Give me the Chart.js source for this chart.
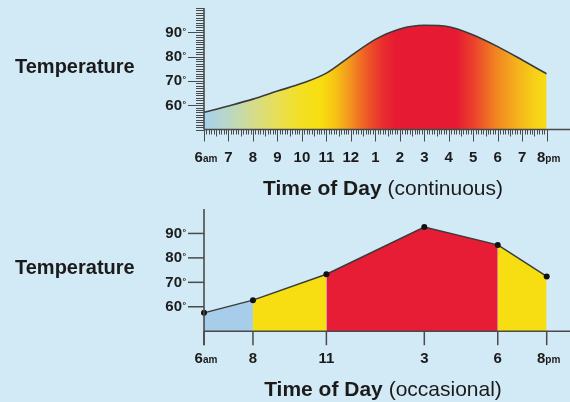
<!DOCTYPE html>
<html>
<head>
<meta charset="utf-8">
<script src="https://cdn.jsdelivr.net/npm/chart.js@4"></script>
<style>
  html, body { margin: 0; padding: 0; background: #d2e9f6; }
  #wrap { position: relative; width: 570px; height: 402px; overflow: hidden; }
  canvas { position: absolute; left: 0; }
  #cont { top: 0; }
  #occ { top: 200px; }
</style>
</head>
<body>
<div id="wrap">
  <canvas id="cont" width="570" height="200"></canvas>
  <canvas id="occ" width="570" height="202"></canvas>
</div>
<script>
// continuous readings, one per hour (6am .. 8pm)
const contHours = [6, 7, 8, 9, 10, 11, 12, 13, 14, 15, 16, 17, 18, 19, 20];
const contTemps = [57.1, 59.7, 62.5, 65.8, 69.0, 73.2, 80.3, 87.1, 91.4, 92.9, 92.3, 88.9, 84.1, 78.6, 72.9];
const contTickLabels = ['6am', '7', '8', '9', '10', '11', '12', '1', '2', '3', '4', '5', '6', '7', '8pm'];

// occasional readings
const occHours = [6, 8, 11, 15, 18, 20];
const occTemps = [57.5, 62.7, 73.3, 92.6, 85.3, 72.4];
const occTickLabels = ['6am', '8', '11', '3', '6', '8pm'];
const occBandColors = ['#a8cdea', '#f6de12', '#e71c35', '#e71c35', '#f6de12'];

const yTickLabels = [60, 70, 80, 90];
const yLabel = 'Temperature';
const xTitleBold = 'Time of Day';
const contTitleRest = ' (continuous)';
const occTitleRest = ' (occasional)';

const FONT = '"Liberation Sans", Arial, Helvetica, sans-serif';
const INK = '#1b1b1b';
const AXIS = '#4a4a4a';

// horizontal heat gradient for the continuous chart (hour, colour)
const heatStops = [
  [6, '#a8d0ee'], [7, '#bad7c6'], [8, '#d3dc8c'], [9, '#e8df55'], [10, '#f4e022'],
  [10.8, '#f7de10'], [11.4, '#f6c015'], [11.9, '#f39a1e'], [12.6, '#ee5d28'],
  [13.3, '#e92d2e'], [13.8, '#e61b33'], [16.3, '#e61b33'], [17, '#eb402b'],
  [17.9, '#f28322'], [18.8, '#f5b21c'], [19.6, '#f7d317'], [20, '#f6db14']
];

function heatFill(c) {
  const chart = c.chart;
  if (!chart.chartArea) return '#f6db14';
  const x = chart.scales.x;
  const x0 = x.getPixelForValue(x.min), x1 = x.getPixelForValue(x.max);
  const g = chart.ctx.createLinearGradient(x0, 0, x1, 0);
  heatStops.forEach(([h, col]) => g.addColorStop((h - x.min) / (x.max - x.min), col));
  return g;
}

function hourLabel(ctx, text, cx, base) {
  const m = text.match(/^(\d+)(am|pm)?$/);
  const num = m[1], suf = m[2] || '';
  ctx.font = 'bold 15px ' + FONT;
  const wn = ctx.measureText(num).width;
  ctx.font = 'bold 10px ' + FONT;
  const ws = suf ? ctx.measureText(suf).width : 0;
  const start = cx - (wn + ws) / 2 + (suf ? 2 : 0);
  ctx.textAlign = 'left';
  ctx.font = 'bold 15px ' + FONT;
  ctx.fillText(num, start, base);
  if (suf) { ctx.font = 'bold 10px ' + FONT; ctx.fillText(suf, start + wn, base); }
}

const axesDraw = {
  id: 'axesDraw',
  afterDraw(chart, args, o) {
    const { ctx, scales: { x, y } } = chart;
    const ax = x.getPixelForValue(x.min);
    const ay = y.getPixelForValue(y.min);
    const yTop = y.getPixelForValue(y.max);
    ctx.save();
    ctx.strokeStyle = AXIS;
    ctx.fillStyle = INK;
    ctx.textBaseline = 'alphabetic';

    // x axis line to the edge
    ctx.lineWidth = 1.6;
    ctx.beginPath(); ctx.moveTo(ax, ay); ctx.lineTo(chart.width, ay); ctx.stroke();
    // y axis line
    ctx.beginPath(); ctx.moveTo(ax, yTop); ctx.lineTo(ax, ay + (o.ruler ? 0 : 14)); ctx.stroke();

    ctx.lineWidth = 1;
    if (o.ruler) {
      y.ticks.forEach(t => {
        const py = Math.round(y.getPixelForValue(t.value)) + 0.5;
        const major = yTickLabels.includes(Math.round(t.value));
        ctx.beginPath(); ctx.moveTo(ax - (major ? 16 : 8), py); ctx.lineTo(ax, py); ctx.stroke();
      });
      x.ticks.forEach(t => {
        const px = Math.round(x.getPixelForValue(t.value)) + 0.5;
        const f = t.value - Math.floor(t.value + 1e-6);
        const len = Math.abs(f) < 1e-6 ? 12 : (Math.abs(f - 0.5) < 1e-6 ? 7 : 5);
        ctx.beginPath(); ctx.moveTo(px, ay); ctx.lineTo(px, ay + len); ctx.stroke();
      });
    } else {
      yTickLabels.forEach(v => {
        const py = y.getPixelForValue(v);
        ctx.lineWidth = 1.5;
        ctx.beginPath(); ctx.moveTo(ax - 16, py); ctx.lineTo(ax, py); ctx.stroke();
      });
      o.hours.forEach(h => {
        const px = x.getPixelForValue(h);
        ctx.lineWidth = 1.5;
        ctx.beginPath(); ctx.moveTo(px, ay); ctx.lineTo(px, ay + 14); ctx.stroke();
      });
    }

    // y labels with degree sign
    yTickLabels.forEach(v => {
      const py = y.getPixelForValue(v);
      ctx.textAlign = 'right';
      ctx.font = 'bold 15px ' + FONT;
      ctx.fillText(String(v), ax - 22, py + 4.5);
      ctx.textAlign = 'left';
      ctx.font = 'bold 9px ' + FONT;
      ctx.fillText('\u00b0', ax - 21.5, py + 1.5);
    });

    // x labels
    o.hours.forEach((h, i) => hourLabel(ctx, o.labels[i], x.getPixelForValue(h), ay + 32));

    // axis titles
    ctx.textAlign = 'left';
    ctx.font = 'bold 20px ' + FONT;
    ctx.fillText(yLabel, 15, y.getPixelForValue(70) - 8);

    ctx.font = 'bold 21px ' + FONT;
    const wb = ctx.measureText(xTitleBold).width;
    ctx.font = '21px ' + FONT;
    const wr = ctx.measureText(o.titleRest).width;
    const sx = 383 - (wb + wr) / 2;
    const base = ay + 65;
    ctx.font = 'bold 21px ' + FONT;
    ctx.fillText(xTitleBold, sx, base);
    ctx.font = '21px ' + FONT;
    ctx.fillText(o.titleRest, sx + wb, base);
    ctx.restore();
  }
};

function scalesFor(xStep, yStep) {
  return {
    x: { type: 'linear', display: false, min: 6, max: 20,
         ticks: { stepSize: xStep, autoSkip: false } },
    y: { type: 'linear', display: false, min: 50, max: 100,
         ticks: { stepSize: yStep, autoSkip: false } }
  };
}

new Chart(document.getElementById('cont'), {
  type: 'line',
  data: {
    datasets: [{
      data: contHours.map((h, i) => ({ x: h, y: contTemps[i] })),
      borderColor: '#3a3a3a',
      borderWidth: 1.6,
      pointRadius: 0,
      cubicInterpolationMode: 'monotone',
      fill: 'start',
      backgroundColor: heatFill
    }]
  },
  options: {
    responsive: false,
    animation: false,
    devicePixelRatio: 1,
    layout: { padding: { left: 204, right: 23.3, top: 8, bottom: 70.5 } },
    scales: scalesFor(0.1, 1),
    plugins: {
      legend: { display: false },
      tooltip: { enabled: false },
      axesDraw: { ruler: true, hours: contHours, labels: contTickLabels, titleRest: contTitleRest }
    }
  },
  plugins: [axesDraw]
});

new Chart(document.getElementById('occ'), {
  type: 'line',
  data: {
    datasets: [{
      data: occHours.map((h, i) => ({ x: h, y: occTemps[i] })),
      borderColor: '#3a3a3a',
      borderWidth: 1.4,
      pointRadius: 3,
      pointBackgroundColor: '#111',
      pointBorderWidth: 0,
      tension: 0,
      clip: false,
      fill: 'start',
      backgroundColor: occBandColors[0],
      segment: { backgroundColor: c => occBandColors[c.p0DataIndex] }
    }]
  },
  options: {
    responsive: false,
    animation: false,
    devicePixelRatio: 1,
    layout: { padding: { left: 204, right: 23.3, top: 9, bottom: 70.8 } },
    scales: scalesFor(1, 10),
    plugins: {
      legend: { display: false },
      tooltip: { enabled: false },
      axesDraw: { ruler: false, hours: occHours, labels: occTickLabels, titleRest: occTitleRest }
    }
  },
  plugins: [axesDraw]
});
</script>
</body>
</html>
